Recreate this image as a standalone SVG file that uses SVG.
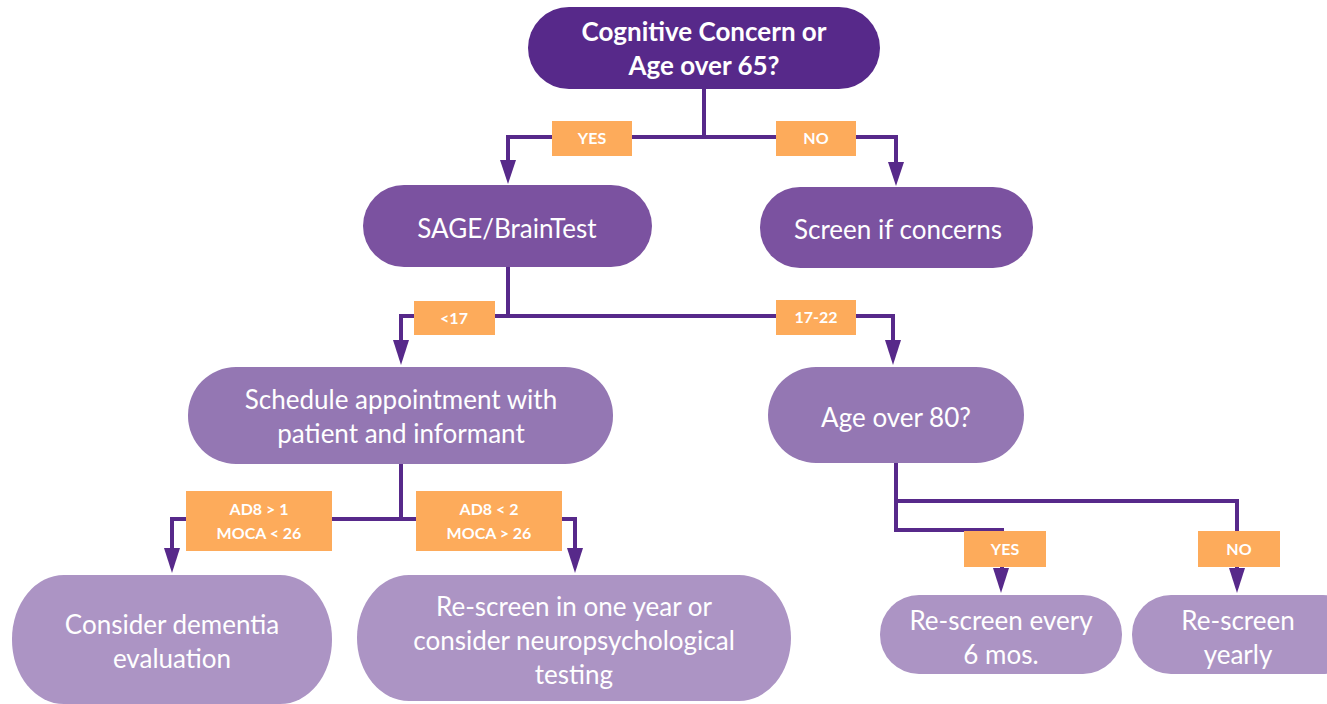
<svg xmlns="http://www.w3.org/2000/svg" width="1327" height="704" viewBox="0 0 1327 704">
<defs>
<style>
.n0{fill:#57298A}
.n1{fill:#7B52A0}
.n2{fill:#9477B3}
.n3{fill:#AC94C4}
.t{font-family:Lato,"Open Sans",sans-serif;font-size:26px;fill:#fff;text-anchor:middle}
.tb{font-family:Lato,"Open Sans",sans-serif;font-size:26px;font-weight:bold;fill:#fff;text-anchor:middle}
.lb{fill:#FDAB5B}
.lt{font-family:Lato,"Open Sans",sans-serif;font-size:16px;font-weight:bold;fill:#fff;text-anchor:middle}
.c{fill:none;stroke:#57298A;stroke-width:4}
.ah{fill:#57298A}
</style>
</defs>
<rect width="1327" height="704" fill="#fff"/>
<g id="connectors">
<path class="c" d="M704,89 V137"/>
<path class="c" d="M508,137 H896"/>
<path class="c" d="M508,135 V162"/>
<path class="ah" d="M500,160 L516,160 L508,184 Z"/>
<path class="c" d="M896,135 V162"/>
<path class="ah" d="M888,162 L904,162 L896,186 Z"/>
<path class="c" d="M508,267 V316"/>
<path class="c" d="M401,316 H893"/>
<path class="c" d="M401,314 V342"/>
<path class="ah" d="M393,340 L409,340 L401,365 Z"/>
<path class="c" d="M893,314 V342"/>
<path class="ah" d="M885,340 L901,340 L893,365 Z"/>
<path class="c" d="M401,464 V519"/>
<path class="c" d="M172,519 H575"/>
<path class="c" d="M172,517 V550"/>
<path class="ah" d="M164,548 L180,548 L172,573 Z"/>
<path class="c" d="M575,517 V550"/>
<path class="ah" d="M567,548 L583,548 L575,573 Z"/>
<path class="c" d="M896,463 V530 H1002 V570"/>
<path class="c" d="M896,501 H1237 V570"/>
<path class="ah" d="M993,568 L1009,568 L1001,593 Z"/>
<path class="ah" d="M1229,568 L1245,568 L1237,593 Z"/>
</g>
<g id="label-yes1"><rect class="lb" x="552" y="121" width="80" height="35"/><text class="lt" x="592" y="144">YES</text></g>
<g id="label-no1"><rect class="lb" x="776" y="121" width="80" height="35"/><text class="lt" x="816" y="144">NO</text></g>
<g id="label-lt17"><rect class="lb" x="414" y="301" width="81" height="34"/><text class="lt" x="454" y="324">&lt;17</text></g>
<g id="label-1722"><rect class="lb" x="776" y="300" width="80" height="35"/><text class="lt" x="816" y="323">17-22</text></g>
<g id="label-ad8a"><rect class="lb" x="186" y="491" width="146" height="60"/><text class="lt" x="259" y="515">AD8 &gt; 1</text><text class="lt" x="259" y="539">MOCA &lt; 26</text></g>
<g id="label-ad8b"><rect class="lb" x="416" y="491" width="146" height="60"/><text class="lt" x="489" y="515">AD8 &lt; 2</text><text class="lt" x="489" y="539">MOCA &gt; 26</text></g>
<g id="label-yes2"><rect class="lb" x="964" y="531" width="82" height="36"/><text class="lt" x="1005" y="555">YES</text></g>
<g id="label-no2"><rect class="lb" x="1198" y="531" width="82" height="36"/><text class="lt" x="1239" y="555">NO</text></g>
<g id="node-start"><rect class="n0" x="528" y="7" width="352" height="82" rx="41"/><text class="tb" x="704" y="41">Cognitive Concern or</text><text class="tb" x="704" y="75">Age over 65?</text></g>
<g id="node-sage"><rect class="n1" x="363" y="185" width="289" height="82" rx="41"/><text class="t" x="507" y="238">SAGE/BrainTest</text></g>
<g id="node-screen"><rect class="n1" x="760" y="187" width="273" height="81" rx="40"/><text class="t" x="898" y="239">Screen if concerns</text></g>
<g id="node-schedule"><rect class="n2" x="188" y="367" width="425" height="97" rx="48"/><text class="t" x="401" y="409">Schedule appointment with</text><text class="t" x="401" y="443">patient and informant</text></g>
<g id="node-age80"><rect class="n2" x="768" y="367" width="256" height="96" rx="48"/><text class="t" x="896" y="427">Age over 80?</text></g>
<g id="node-dementia"><rect class="n3" x="12" y="575" width="320" height="129" rx="52" ry="64"/><text class="t" x="172" y="634">Consider dementia</text><text class="t" x="172" y="668">evaluation</text></g>
<g id="node-rescreen1"><rect class="n3" x="357" y="575" width="434" height="126" rx="52" ry="63"/><text class="t" x="574" y="616">Re-screen in one year or</text><text class="t" x="574" y="650">consider neuropsychological</text><text class="t" x="574" y="684">testing</text></g>
<g id="node-6mos"><rect class="n3" x="880" y="595" width="242" height="79" rx="39"/><text class="t" x="1001" y="630">Re-screen every</text><text class="t" x="1001" y="664">6 mos.</text></g>
<g id="node-yearly"><rect class="n3" x="1132" y="595" width="230" height="79" rx="39"/><text class="t" x="1238" y="630">Re-screen</text><text class="t" x="1238" y="664">yearly</text></g>
</svg>
